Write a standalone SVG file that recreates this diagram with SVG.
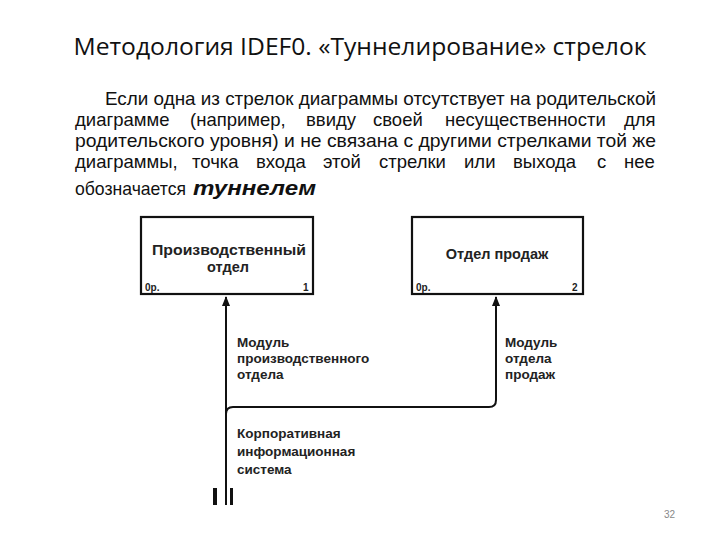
<svg xmlns="http://www.w3.org/2000/svg" width="720" height="540" viewBox="0 0 720 540">
<defs>
<style>
.title{font-family:"Open Sans","Liberation Sans",sans-serif;font-size:23px;fill:#111}
.para{font-family:"Liberation Sans",Arial,sans-serif;font-size:18.5px;fill:#111}
.em{font-family:"Liberation Sans",Arial,sans-serif;font-size:21px;font-weight:bold;font-style:italic;fill:#111}
.box{fill:#fff;stroke:#111;stroke-width:2.2}
.bt{font-family:"Liberation Sans",Arial,sans-serif;font-size:14.5px;font-weight:bold;fill:#222;text-anchor:middle}
.small{font-family:"Liberation Sans",Arial,sans-serif;font-size:10px;font-weight:bold;fill:#222}
.lbl{font-family:"Liberation Sans",Arial,sans-serif;font-size:13.5px;font-weight:bold;fill:#222}
.conn{fill:none;stroke:#111;stroke-width:2}
.pg{font-family:"Liberation Sans",Arial,sans-serif;font-size:10px;fill:#888}
</style>
<marker id="ah" viewBox="0 0 10 10" refX="9" refY="5" markerWidth="5" markerHeight="5" orient="auto">
<path d="M0,1 L10,5 L0,9 z" fill="#111"/>
</marker>
</defs>
<rect width="720" height="540" fill="#fff"/>
<text class="title" x="360" y="55" text-anchor="middle" textLength="573" lengthAdjust="spacingAndGlyphs">Методология IDEF0. «Туннелирование» стрелок</text>
<g id="paragraph">
<text class="para" x="105" y="105" textLength="551" lengthAdjust="spacingAndGlyphs">Если одна из стрелок диаграммы отсутствует на родительской</text>
<text class="para" y="126"><tspan x="75">диаграмме</tspan><tspan x="190">(например,</tspan><tspan x="306">ввиду</tspan><tspan x="373">своей</tspan><tspan x="445">несущественности</tspan><tspan x="624">для</tspan></text>
<text class="para" x="75" y="147" textLength="581" lengthAdjust="spacingAndGlyphs">родительского уровня) и не связана с другими стрелками той же</text>
<text class="para" y="168"><tspan x="75">диаграммы,</tspan><tspan x="192">точка</tspan><tspan x="256">входа</tspan><tspan x="323">этой</tspan><tspan x="379">стрелки</tspan><tspan x="464">или</tspan><tspan x="513">выхода</tspan><tspan x="597">с</tspan><tspan x="624">нее</tspan></text>
<text class="para" x="75" y="195" textLength="111" lengthAdjust="spacingAndGlyphs">обозначается</text>
<text class="em" x="193" y="195" textLength="123" lengthAdjust="spacingAndGlyphs">туннелем</text>
</g>
<g id="connectors">
<path class="conn" d="M226,505 L226,297" marker-end="url(#ah)"/>
<path class="conn" d="M226,414 Q226,407 233,407 L489,407 Q496,407 496,400 L496,297" marker-end="url(#ah)"/>
<rect x="213" y="488" width="4" height="17" fill="#111"/>
<rect x="230" y="488" width="3" height="17" fill="#111"/>
</g>
<g id="node1">
<rect class="box" x="141" y="217" width="172" height="77"/>
<text class="bt" x="229" y="255" textLength="154" lengthAdjust="spacingAndGlyphs">Производственный</text>
<text class="bt" x="228" y="272">отдел</text>
<text class="small" x="145" y="291">0р.</text>
<text class="small" x="303" y="291">1</text>
</g>
<g id="node2">
<rect class="box" x="412" y="217" width="171" height="77"/>
<text class="bt" x="497" y="259">Отдел продаж</text>
<text class="small" x="416" y="291">0р.</text>
<text class="small" x="572" y="291">2</text>
</g>
<g id="labels">
<text class="lbl" x="237" y="347">Модуль</text>
<text class="lbl" x="237" y="363">производственного</text>
<text class="lbl" x="237" y="379">отдела</text>
<text class="lbl" x="505" y="347">Модуль</text>
<text class="lbl" x="505" y="363">отдела</text>
<text class="lbl" x="505" y="379">продаж</text>
<text class="lbl" x="237" y="438">Корпоративная</text>
<text class="lbl" x="237" y="456">информационная</text>
<text class="lbl" x="237" y="474">система</text>
</g>
<text class="pg" x="664" y="518">32</text>
</svg>
